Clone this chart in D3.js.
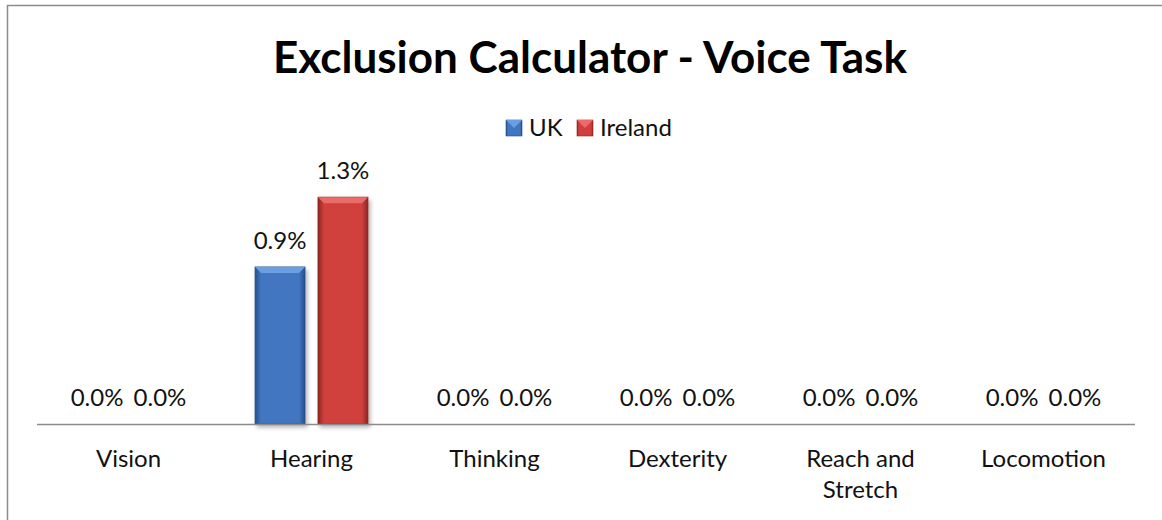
<!DOCTYPE html>
<html>
<head>
<meta charset="utf-8">
<script src="https://cdn.jsdelivr.net/npm/d3@7"></script>
<style>
  body { margin: 0; background: #fff; }
  svg { display: block; font-family: Lato, "Open Sans", sans-serif; }
</style>
</head>
<body>
<div id="chart"></div>
<script>
// Chart data
const categories = ['Vision', 'Hearing', 'Thinking', 'Dexterity', 'Reach and Stretch', 'Locomotion'];
const seriesNames = ['UK', 'Ireland'];
const ukValues = [0, 0.9, 0, 0, 0, 0];
const irelandValues = [0, 1.3, 0, 0, 0, 0];
const title = 'Exclusion Calculator - Voice Task';

const width = 1162,
      height = 520,
      plot = { left: 37, right: 1135, top: 180, bottom: 424 },
      labelSize = 24;

const colors = {
  UK: { mid: '#4276c0', light: '#6b9ee0', dark: '#244f8c' },
  Ireland: { mid: '#d03f3d', light: '#ec6b68', dark: '#8c2523' }
};

const rows = categories.map((c, i) => ({
  category: c,
  values: [
    { key: 'UK', value: ukValues[i] },
    { key: 'Ireland', value: irelandValues[i] }
  ]
}));

const svg = d3.select('#chart')
  .append('svg')
  .attr('width', width)
  .attr('height', height);

const defs = svg.append('defs');

// bevel-ish gradients for the bars
seriesNames.forEach(name => {
  const c = colors[name];
  const g = defs.append('linearGradient')
    .attr('id', 'grad-' + name)
    .attr('x1', '0%').attr('x2', '100%')
    .attr('y1', '0%').attr('y2', '0%');
  g.append('stop').attr('offset', '0%').attr('stop-color', c.dark);
  g.append('stop').attr('offset', '12%').attr('stop-color', c.mid);
  g.append('stop').attr('offset', '88%').attr('stop-color', c.mid);
  g.append('stop').attr('offset', '100%').attr('stop-color', c.dark);
});

const shadow = defs.append('filter').attr('id', 'shadow')
  .attr('x', '-20%').attr('y', '-10%').attr('width', '140%').attr('height', '130%');
shadow.append('feDropShadow')
  .attr('dx', 2).attr('dy', 3).attr('stdDeviation', 2)
  .attr('flood-color', '#000').attr('flood-opacity', 0.3);

// outer chart border
svg.append('rect')
  .attr('x', 7.5).attr('y', 5.5)
  .attr('width', width + 10).attr('height', height + 10)
  .attr('fill', 'none')
  .attr('stroke', '#8c8c8c')
  .attr('stroke-width', 1.5);

// title
svg.append('text')
  .attr('x', 590)
  .attr('y', 73)
  .attr('text-anchor', 'middle')
  .attr('font-size', 44)
  .attr('font-weight', 'bold')
  .attr('fill', '#000')
  .text(title);

const x0 = d3.scaleBand()
  .domain(categories)
  .range([plot.left, plot.right])
  .paddingInner(0.383)
  .paddingOuter(0.1915);

const x1 = d3.scaleBand()
  .domain(seriesNames)
  .range([0, x0.bandwidth()])
  .paddingInner(0.206);

const y = d3.scaleLinear()
  .domain([0, 1.4])
  .range([plot.bottom, plot.bottom - 1.4 * 174.5]);

// bars
const groups = svg.selectAll('g.cat')
  .data(rows)
  .enter()
  .append('g')
  .attr('class', 'cat')
  .attr('transform', d => 'translate(' + x0(d.category) + ',0)');

const bars = groups.selectAll('g.bar')
  .data(d => d.values)
  .enter()
  .append('g')
  .attr('class', 'bar');

bars.filter(d => d.value > 0)
  .append('rect')
  .attr('x', d => x1(d.key))
  .attr('y', d => y(d.value))
  .attr('width', x1.bandwidth())
  .attr('height', d => y(0) - y(d.value))
  .attr('fill', d => 'url(#grad-' + d.key + ')')
  .attr('stroke', d => colors[d.key].dark)
  .attr('stroke-width', 0.8)
  .attr('filter', 'url(#shadow)');

// top bevel
bars.filter(d => d.value > 0)
  .append('path')
  .attr('d', d => {
    const x = x1(d.key), w = x1.bandwidth(), t = y(d.value), b = 6;
    return 'M' + x + ',' + t + 'L' + (x + w) + ',' + t +
      'L' + (x + w - b) + ',' + (t + b) + 'L' + (x + b) + ',' + (t + b) + 'Z';
  })
  .attr('fill', d => colors[d.key].light);

// value labels
bars.append('text')
  .attr('x', d => x1(d.key) + x1.bandwidth() / 2)
  .attr('y', d => y(d.value) - 18)
  .attr('text-anchor', 'middle')
  .attr('font-size', labelSize)
  .attr('fill', '#111')
  .text(d => d.value.toFixed(1) + '%');

// category axis
const xAxis = d3.axisBottom(x0).tickSize(0).tickPadding(0);

const axisG = svg.append('g')
  .attr('transform', 'translate(0,' + plot.bottom + ')')
  .call(xAxis);

axisG.select('.domain')
  .attr('stroke', '#8c8c8c')
  .attr('stroke-width', 1.5)
  .attr('d', 'M' + plot.left + ',0.5H' + plot.right);

axisG.selectAll('.tick text').remove();

axisG.selectAll('.tick')
  .append('text')
  .attr('text-anchor', 'middle')
  .attr('fill', '#111')
  .attr('font-size', labelSize)
  .attr('font-family', 'Lato, "Open Sans", sans-serif')
  .each(function(d) {
    const words = d === 'Reach and Stretch' ? ['Reach and', 'Stretch'] : [d];
    d3.select(this).selectAll('tspan')
      .data(words)
      .enter()
      .append('tspan')
      .attr('x', 0)
      .attr('y', (w, i) => 43 + i * 31)
      .text(w => w);
  });

// legend
const legend = svg.append('g').attr('transform', 'translate(506,120)');
const legendItems = [
  { key: 'UK', x: 0 },
  { key: 'Ireland', x: 71 }
];
const li = legend.selectAll('g')
  .data(legendItems)
  .enter()
  .append('g')
  .attr('transform', d => 'translate(' + d.x + ',0)');

li.append('rect')
  .attr('width', 16).attr('height', 16)
  .attr('fill', d => 'url(#grad-' + d.key + ')')
  .attr('stroke', d => colors[d.key].dark)
  .attr('stroke-width', 0.6);
li.append('path')
  .attr('d', 'M0,0L16,0L8,8Z')
  .attr('fill', d => colors[d.key].light);
li.append('text')
  .attr('x', 23)
  .attr('y', 16)
  .attr('font-size', labelSize)
  .attr('fill', '#111')
  .text(d => d.key);
</script>
</body>
</html>
